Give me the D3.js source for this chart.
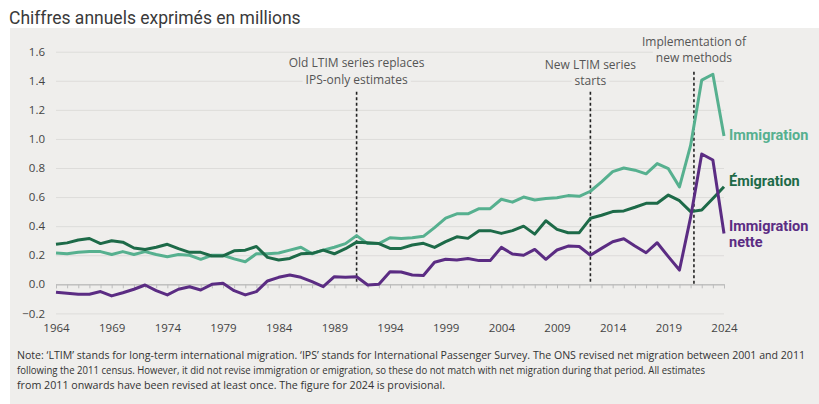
<!DOCTYPE html>
<html><head><meta charset="utf-8">
<script src="https://cdn.jsdelivr.net/npm/d3@7"></script>
<style>body{margin:0;background:#fff}svg{display:block}</style>
</head><body><svg id="c" width="819" height="404"></svg>
<script>
const years = d3.range(1964, 2025);
const immigration = [
0.215,0.21,0.22,0.225,0.225,0.205,0.225,0.205,0.225,0.205,
0.19,0.205,0.2,0.172,0.2,0.2,0.175,0.155,0.21,0.21,
0.215,0.235,0.255,0.21,0.235,0.255,0.28,0.335,0.28,0.28,
0.32,0.315,0.32,0.33,0.39,0.455,0.485,0.485,0.52,0.52,
0.585,0.565,0.6,0.58,0.59,0.595,0.61,0.605,0.64,0.705,
0.775,0.8,0.785,0.76,0.83,0.795,0.67,0.955,1.405,1.445,
1.02];
const emigration = [
0.275,0.285,0.305,0.315,0.28,0.30,0.29,0.25,0.24,0.255,
0.275,0.245,0.22,0.22,0.195,0.195,0.23,0.235,0.26,0.185,
0.167,0.178,0.21,0.213,0.235,0.21,0.245,0.29,0.285,0.28,
0.247,0.247,0.27,0.282,0.254,0.293,0.327,0.316,0.369,0.369,
0.35,0.369,0.40,0.345,0.437,0.378,0.355,0.355,0.454,0.475,
0.50,0.505,0.53,0.557,0.557,0.614,0.575,0.50,0.511,0.59,
0.671];
const netMigration = [
-0.055,-0.062,-0.068,-0.068,-0.05,-0.08,-0.058,-0.034,-0.005,-0.044,
-0.073,-0.034,-0.017,-0.039,0.0,0.007,-0.044,-0.073,-0.05,0.023,
0.048,0.064,0.048,0.018,-0.016,0.052,0.048,0.052,-0.005,0.0,
0.087,0.085,0.064,0.06,0.152,0.172,0.167,0.178,0.163,0.163,
0.254,0.208,0.2,0.24,0.172,0.236,0.263,0.26,0.2,0.247,
0.293,0.313,0.263,0.217,0.286,0.19,0.098,0.46,0.896,0.855,
0.35];
const yTicks = [-0.2,0,0.2,0.4,0.6,0.8,1.0,1.2,1.4,1.6];
const xTickYears = [1964,1969,1974,1979,1984,1989,1994,1999,2004,2009,2014,2019,2024];
const markerYears = [1991, 2012, 2021.3];
const markerTexts = [["Old LTIM series replaces","IPS-only estimates"],["New LTIM series","starts"],["Implementation of","new methods"]];
const seriesLabels = [["Immigration"],["Émigration"],["Immigration","nette"]];
const title = "Chiffres annuels exprimés en millions";
const noteLines = [
"Note: ‘LTIM’ stands for long-term international migration. ‘IPS’ stands for International Passenger Survey. The ONS revised net migration between 2001 and 2011",
"following the 2011 census. However, it did not revise immigration or emigration, so these do not match with net migration during that period. All estimates",
"from 2011 onwards have been revised at least once. The figure for 2024 is provisional."
];

const svg = d3.select("#c");
const W = 819, H = 404;
const bg = "#efeeec";
svg.append("rect").attr("x",10).attr("y",28).attr("width",W-10).attr("height",H-28).attr("fill",bg);

svg.append("text").attr("x",9).attr("y",24).attr("font-family","Roboto, sans-serif")
  .attr("font-size",17.5).attr("fill","#3a3a3a").text(title);

const x = d3.scaleLinear().domain([1964,2024]).range([56,724]);
const y = d3.scaleLinear().domain([0,1.6]).range([284.3,51.7]);

// gridlines
const yAxis = d3.axisLeft(y).tickValues(yTicks).tickFormat(d3.format(".1f")).tickSize(-(724-56)).tickPadding(11);
const gy = svg.append("g").attr("transform","translate(56,0)").call(yAxis);
gy.select(".domain").remove();
gy.selectAll(".tick line").attr("stroke", d => d===0 ? "#bdbdbd" : "#dddcda").attr("stroke-width",1);
gy.selectAll(".tick text").attr("font-family","'Open Sans', sans-serif").attr("font-size",11.5).attr("fill","#444");

// zero line year ticks
const xMinor = d3.axisBottom(x).tickValues(years).tickSize(4).tickFormat("");
const gz = svg.append("g").attr("transform",`translate(0,${y(0)})`).call(xMinor);
gz.select(".domain").attr("stroke","#bdbdbd");
gz.selectAll(".tick line").attr("stroke","#bdbdbd");

const xAxis = d3.axisBottom(x).tickValues(xTickYears).tickFormat(d3.format("d")).tickSize(0).tickPadding(0);
const gx = svg.append("g").attr("transform","translate(0,324)").call(xAxis);
gx.select(".domain").remove();
gx.selectAll(".tick text").attr("font-family","'Open Sans', sans-serif").attr("font-size",11.5).attr("fill","#444");

// marker lines
const markerTops = [91.7, 91.7, 71.7];
markerYears.forEach((m,i)=>{
  svg.append("line").attr("x1",x(m)).attr("x2",x(m)).attr("y1",markerTops[i]).attr("y2",y(0))
    .attr("stroke","#222").attr("stroke-width",1.6).attr("stroke-dasharray","3,2.5");
});
const markerTextY = [[67,84],[69,85],[46,62]];
markerYears.forEach((m,i)=>{
  markerTexts[i].forEach((t,j)=>{
    const tx = svg.append("text").attr("x",x(m)).attr("y",markerTextY[i][j]).attr("text-anchor","middle")
      .attr("font-family","'Open Sans', sans-serif").attr("font-size",12).attr("fill","#555").text(t);
    const bb = tx.node().getBBox();
    svg.insert("rect", () => tx.node()).attr("x",bb.x-3).attr("y",bb.y+1).attr("width",bb.width+6).attr("height",bb.height-2).attr("fill",bg);
  });
});

const colors = ["#56b08f","#1d6a48","#5b2c83"];
const data = [immigration, emigration, netMigration];
const line = d3.line().x((d,i)=>x(years[i])).y(d=>y(d));
data.forEach((s,k)=>{
  svg.append("path").datum(s).attr("d",line).attr("fill","none").attr("stroke",colors[k])
    .attr("stroke-width",3).attr("stroke-linejoin","round");
});

// labels
const labelY = [[140],[186],[231,247]];
seriesLabels.forEach((ls,k)=>{
  ls.forEach((t,j)=>{
    svg.append("text").attr("x",729).attr("y",labelY[k][j]).attr("font-family","Roboto, sans-serif")
      .attr("font-weight","bold").attr("font-size",14.5).attr("fill",colors[k]).text(t);
  });
});

const noteWidths = [788, 688, 428];
noteLines.forEach((t,i)=>{
  svg.append("text").attr("x",17).attr("y",359+i*15).attr("font-family","'Open Sans', sans-serif")
    .attr("font-size",10).attr("fill","#333").attr("textLength",noteWidths[i]).attr("lengthAdjust","spacingAndGlyphs").text(t);
});
</script></body></html>
